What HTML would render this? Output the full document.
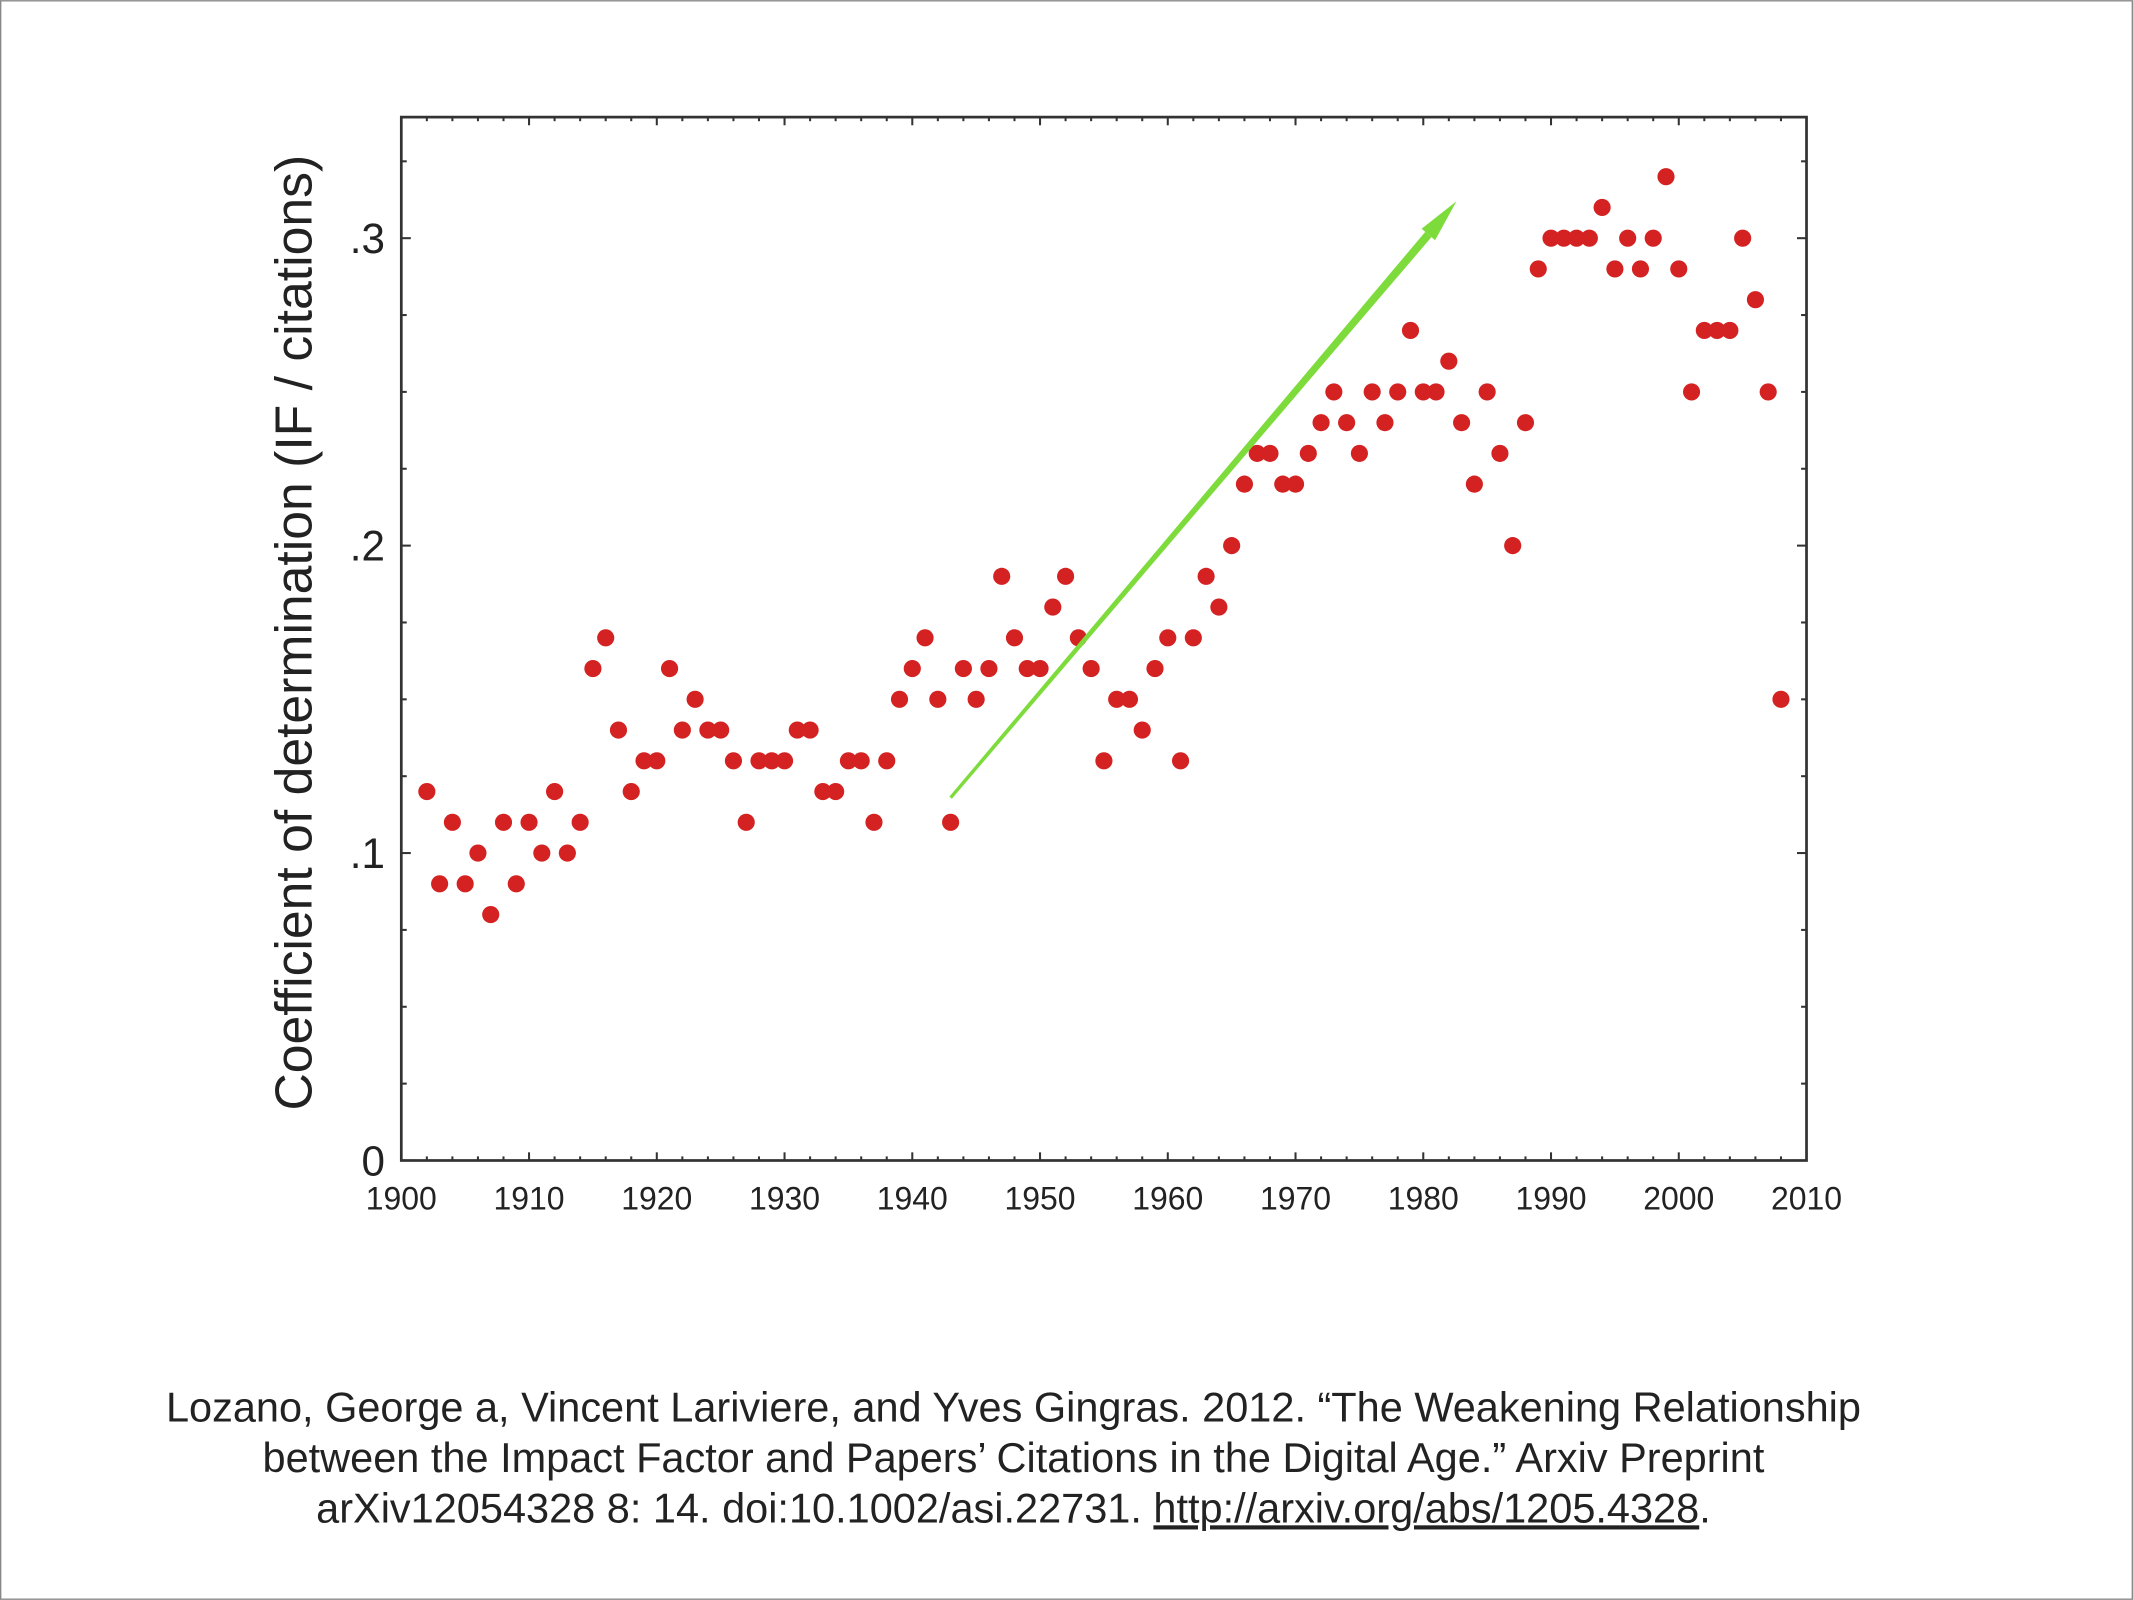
<!DOCTYPE html>
<html><head><meta charset="utf-8"><style>
html,body{margin:0;padding:0;background:#fff;}
svg{display:block;}
text{font-family:"Liberation Sans",sans-serif;}
</style></head><body>
<svg width="2133" height="1600" viewBox="0 0 1568 1176">
<rect x="0.5" y="0.5" width="1567" height="1175" fill="#fff" stroke="#888" stroke-width="1"/>
<g id="plot"></g>
<text x="229" y="465" font-size="38" fill="#222" text-anchor="middle" transform="rotate(-90 229 465)">Coefficient of determination (IF / citations)</text>
<g font-size="30.5" fill="#222" text-anchor="middle">
<text x="745" y="1045">Lozano, George a, Vincent Lariviere, and Yves Gingras. 2012. “The Weakening Relationship</text>
<text x="745" y="1082">between the Impact Factor and Papers’ Citations in the Digital Age.” Arxiv Preprint</text>
<text x="745" y="1119">arXiv12054328 8: 14. doi:10.1002/asi.22731. <tspan text-decoration="underline">http://arxiv.org/abs/1205.4328</tspan>.</text>
</g>
</svg>
<script>
const years = [];
for (let y = 1902; y <= 2008; y++) years.push(y);
const values = [.12,.09,.11,.09,.10,.08,.11,.09,.11,.10,.12,.10,.11,.16,.17,.14,.12,.13,.13,.16,
.14,.15,.14,.14,.13,.11,.13,.13,.13,.14,.14,.12,.12,.13,.13,.11,.13,.15,.16,.17,
.15,.11,.16,.15,.16,.19,.17,.16,.16,.18,.19,.17,.16,.13,.15,.15,.14,.16,.17,.13,
.17,.19,.18,.20,.22,.23,.23,.22,.22,.23,.24,.25,.24,.23,.25,.24,.25,.27,.25,.25,
.26,.24,.22,.25,.23,.20,.24,.29,.30,.30,.30,.30,.31,.29,.30,.29,.30,.32,.29,.25,
.27,.27,.27,.30,.28,.25,.15];
const xTicks = [1900,1910,1920,1930,1940,1950,1960,1970,1980,1990,2000,2010];
const yTicks = [0,.1,.2,.3];
const yTickLabels = ["0",".1",".2",".3"];
const arrowStart = [1943, 0.118];
const arrowEnd = [1982.6, 0.312];

const L=295,R=1328,T=86,B=853;
const xs = v => L + (v-1900)*(R-L)/110;
const ys = v => B - v*2260;
const NS="http://www.w3.org/2000/svg";
const g=document.getElementById('plot');
function mk(tag,attrs){const e=document.createElementNS(NS,tag);for(const k in attrs)e.setAttribute(k,attrs[k]);g.appendChild(e);return e;}

const frame=mk('rect',{x:L,y:T,width:R-L,height:B-T,fill:'none',stroke:'#333','stroke-width':2});


for(let yr=1900; yr<=2010; yr+=2){
  const major=yr%10===0, len=major?6:3;
  const x=xs(yr);
  mk('line',{x1:x,y1:B,x2:x,y2:B-len,stroke:'#333','stroke-width':1.5});
  mk('line',{x1:x,y1:T,x2:x,y2:T+len,stroke:'#333','stroke-width':1.5});
}
for(let k=0;k<=13;k++){
  const v=k*0.025, y=ys(v); if(y<T) break;
  const len=(k%4===0)?7:4;
  mk('line',{x1:L,y1:y,x2:L+len,y2:y,stroke:'#333','stroke-width':1.5});
  mk('line',{x1:R,y1:y,x2:R-len,y2:y,stroke:'#333','stroke-width':1.5});
}
xTicks.forEach(t=>{
  const e=mk('text',{x:xs(t),y:B+36,'font-size':23.5,'text-anchor':'middle',fill:'#222'});
  e.textContent=t;
  
  
});
yTicks.forEach((t,i)=>{
  const e=mk('text',{x:L-12,y:ys(t)+11,'font-size':31,'text-anchor':'end',fill:'#222'});
  e.textContent=yTickLabels[i];
  
  
});
years.forEach((yr,i)=>{
  const c=mk('circle',{cx:xs(yr),cy:ys(values[i]),r:6.3,fill:'#d42222'});
  
  
});
const x1=xs(arrowStart[0]),y1=ys(arrowStart[1]),x2=xs(arrowEnd[0]),y2=ys(arrowEnd[1]);
const dx=x2-x1,dy=y2-y1,len=Math.hypot(dx,dy),ux=dx/len,uy=dy/len,px=-uy,py=ux;
const hl=32,hw=6.5;
const bx=x2-ux*hl,by=y2-uy*hl;
const sw0=1.2, sw1=3;
const ln=mk('polygon',{points:`${x1+px*sw0},${y1+py*sw0} ${bx+px*sw1},${by+py*sw1} ${bx-px*sw1},${by-py*sw1} ${x1-px*sw0},${y1-py*sw0}`,fill:'#7ddc3c'});


const hd=mk('polygon',{points:`${x2},${y2} ${bx+px*hw},${by+py*hw} ${bx-px*hw},${by-py*hw}`,fill:'#7ddc3c'});


</script>
</body></html>
